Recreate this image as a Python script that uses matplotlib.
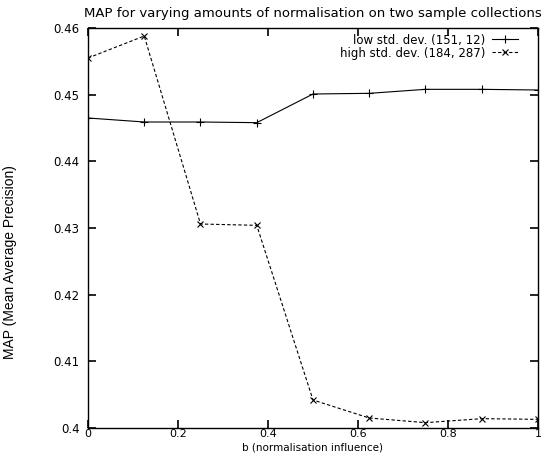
import matplotlib
matplotlib.use("Agg")
from matplotlib import pyplot as plt

# normalisation influence b
b_values = [0, 0.125, 0.25, 0.375, 0.5, 0.625, 0.75, 0.875, 1.0]
low_std_map = [0.4465, 0.4459, 0.4459, 0.4458, 0.4501, 0.4502, 0.4508, 0.4508, 0.4507]
high_std_map = [0.4555, 0.4588, 0.4306, 0.4304, 0.4042, 0.4015, 0.4008, 0.4014, 0.4013]
series_labels = ["low std. dev. (151, 12)", "high std. dev. (184, 287)"]
x_ticks = [0, 0.2, 0.4, 0.6, 0.8, 1]
x_tick_labels = ["0", "0.2", "0.4", "0.6", "0.8", "1"]
y_ticks = [0.40, 0.41, 0.42, 0.43, 0.44, 0.45, 0.46]
y_tick_labels = ["0.4", "0.41", "0.42", "0.43", "0.44", "0.45", "0.46"]

plt.rcParams["font.family"] = ["DejaVu Sans"]
fsize = 8.5

fig = plt.figure(figsize=(5.52, 4.55), dpi=100)
ax = fig.add_axes([88 / 552, 1 - 428 / 455, 450 / 552, 400 / 455])

ax.plot(b_values, low_std_map, color="k", linestyle="-", marker="+",
        markersize=6, linewidth=0.8, markeredgewidth=0.8, label=series_labels[0])
ax.plot(b_values, high_std_map, color="k", linestyle=(0, (3, 2)), marker="x",
        markersize=4.5, linewidth=0.8, markeredgewidth=0.8, label=series_labels[1])

ax.set_xlim(0, 1)
ax.set_ylim(0.40, 0.46)
ax.set_xticks(x_ticks)
ax.set_xticklabels(x_tick_labels)
ax.set_yticks(y_ticks)
ax.set_yticklabels(y_tick_labels)
ax.tick_params(direction="in", length=6, width=1.2, top=True, right=True,
               labelsize=fsize)
ax.tick_params(axis="x", pad=1, labelsize=8)
ax.tick_params(axis="y", pad=6)
for side in ax.spines:
    ax.spines[side].set_linewidth(1.0)

ax.set_title("MAP for varying amounts of normalisation on two sample collections",
             fontsize=9.5, pad=8)
ax.set_xlabel("b (normalisation influence)", fontsize=7.5)
ax.xaxis.set_label_coords(0.5, -0.0368)
fig.text(10 / 552, 1 - 262 / 455, "MAP (Mean Average Precision)", rotation=90,
         ha="center", va="center", fontsize=10, family="Liberation Sans")

ax.legend(loc="upper right", frameon=False, markerfirst=False, fontsize=fsize,
          handlelength=2.2, handletextpad=0.5, labelspacing=0.0,
          borderaxespad=0.0, bbox_to_anchor=(0.965, 0.998))

fig.savefig("out.png", dpi=100)
